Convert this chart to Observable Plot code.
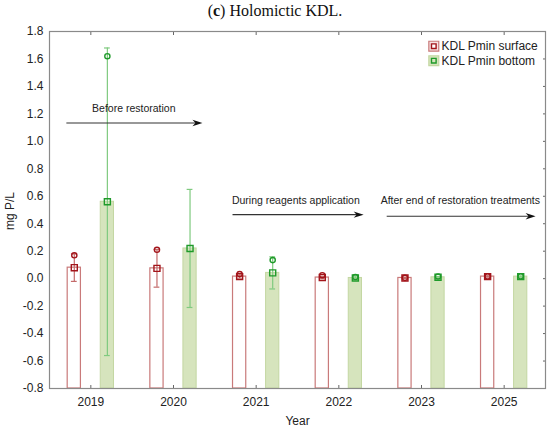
<!DOCTYPE html>
<html><head><meta charset="utf-8">
<script src="https://cdn.jsdelivr.net/npm/d3@7"></script>
<script src="https://cdn.jsdelivr.net/npm/@observablehq/plot@0.6"></script>
<style>
body{margin:0;background:#fff;}
#title{height:20px;line-height:22px;text-align:center;font-family:"Liberation Serif","DejaVu Serif",serif;font-size:16px;color:#111;}
</style></head><body>
<div id="title">(<b>c</b>) Holomictic KDL.</div>
<div id="chart"></div>
<script>
// ---- data ----
const years = ["2019", "2020", "2021", "2022", "2023", "2025"];
const surfaceMean = [0.080, 0.075, 0.015, 0.008, 0.005, 0.015];
const surfaceSD   = [0.100, 0.137, 0.012, 0.008, 0.004, 0.004];
const surfaceMax  = [0.170, 0.210, 0.033, 0.025, 0.006, 0.016];
const bottomMean  = [0.560, 0.220, 0.042, 0.005, 0.010, 0.015];
const bottomSD    = [1.120, 0.430, 0.117, 0.008, 0.006, 0.004];
const bottomMax   = [1.620, null,  0.135, 0.012, 0.016, 0.017];
const yTicks = [-0.8, -0.6, -0.4, -0.2, 0.0, 0.2, 0.4, 0.6, 0.8, 1.0, 1.2, 1.4, 1.6, 1.8];
const seriesNames = ["KDL Pmin surface", "KDL Pmin bottom"];
// phase annotations (x in year-index units, y in mg P/L)
const phaseText   = ["Before restoration", "During reagents application", "After end of restoration treatments"];
const phaseFrom   = [-0.29, 1.72, 3.585];
const phaseTo     = [1.35, 3.30, 5.38];
const phaseArrowY = [1.134, 0.466, 0.454];
const phaseTextX  = [0.52, 2.48, 4.47];
const phaseTextY  = [1.24, 0.57, 0.57];

// ---- build tables ----
const yMin = -0.8, yMax = 1.8;
const off = 0.2, half = 0.08, cap = 0.035;
const mk = (mean, sd, max, o) => years.map((y, i) => ({
  i, x: i + o, mean: mean[i], lo: mean[i] - sd[i], hi: mean[i] + sd[i], max: max[i]
}));
const surface = mk(surfaceMean, surfaceSD, surfaceMax, -off);
const bottom = mk(bottomMean, bottomSD, bottomMax, off);
const phases = phaseText.map((t, k) => ({t, x1: phaseFrom[k], x2: phaseTo[k], y: phaseArrowY[k], tx: phaseTextX[k], ty: phaseTextY[k]}));

const C = {
  sBar: "#c97a7a", sErr: "#c46a6a", sMark: "#a3151b",
  bFill: "#d6e4bd", bBar: "#c3d7a2", bErr: "#7fca7f", bMark: "#1f9a2a"
};
const dart = {draw(ctx) { ctx.moveTo(0, 0); ctx.lineTo(-10, -3.2); ctx.lineTo(-7, 0); ctx.lineTo(-10, 3.2); ctx.closePath(); }};
const font = "Liberation Sans, Arial, sans-serif";

const errMarks = (data, color) => [
  Plot.ruleX(data, {x: "x", y1: "lo", y2: "hi", stroke: color, strokeWidth: 1.2}),
  Plot.ruleY(data, {y: "lo", x1: d => d.x - cap, x2: d => d.x + cap, stroke: color, strokeWidth: 1.2}),
  Plot.ruleY(data, {y: "hi", x1: d => d.x - cap, x2: d => d.x + cap, stroke: color, strokeWidth: 1.2})
];

const legend = seriesNames.flatMap((name, k) => {
  const dy = 14.7 + k * 14.5;
  return [
    Plot.dot([0], {frameAnchor: "top-right", dx: -111.7, dy, symbol: "square", r: 5.6,
      fill: k === 0 ? "#f7e3e3" : C.bFill, stroke: k === 0 ? C.sBar : C.bBar, strokeWidth: 1.2}),
    Plot.dot([0], {frameAnchor: "top-right", dx: -111.7, dy, symbol: "square", r: 2.6,
      fill: k === 0 ? "white" : "none", stroke: k === 0 ? C.sMark : C.bMark, strokeWidth: 1.4}),
    Plot.text([name], {frameAnchor: "top-right", dx: -104, dy, text: d => d, textAnchor: "start",
      lineAnchor: "middle", fontSize: 12, fill: "#222"})
  ];
});

const chart = Plot.plot({
  width: 550, height: 409,
  marginTop: 11, marginBottom: 41, marginLeft: 49, marginRight: 5,
  style: {fontFamily: font, fontSize: "12px", color: "#222", background: "#fff"},
  x: {domain: [-0.5, years.length - 0.5]},
  y: {domain: [yMin, yMax]},
  marks: [
    // bars
    Plot.rectY(surface, {x1: d => d.x - half, x2: d => d.x + half, y1: yMin, y2: "mean", fill: "white", stroke: C.sBar, strokeWidth: 1.2}),
    Plot.rectY(bottom, {x1: d => d.x - half, x2: d => d.x + half, y1: yMin, y2: "mean", fill: C.bFill, stroke: C.bBar, strokeWidth: 1}),
    // error bars
    ...errMarks(surface, C.sErr),
    ...errMarks(bottom, C.bErr),
    // max circles and mean squares
    Plot.dot(surface, {x: "x", y: "max", r: 2.6, stroke: C.sMark, fill: "none", strokeWidth: 1.4}),
    Plot.dot(bottom.filter(d => d.max != null), {x: "x", y: "max", r: 2.6, stroke: C.bMark, fill: "none", strokeWidth: 1.4}),
    Plot.dot(surface, {x: "x", y: "mean", symbol: "square", r: 3.4, stroke: C.sMark, fill: "none", strokeWidth: 1.4}),
    Plot.dot(bottom, {x: "x", y: "mean", symbol: "square", r: 3.4, stroke: C.bMark, fill: "none", strokeWidth: 1.4}),
    // phase arrows
    Plot.ruleY(phases, {y: "y", x1: "x1", x2: d => d.x2 - 0.06, stroke: "#333", strokeWidth: 1.1}),
    Plot.dot(phases, {x: "x2", y: "y", symbol: dart, fill: "#111", stroke: "none"}),
    Plot.text(phases, {x: "tx", y: "ty", text: "t", fontSize: 10.5, fill: "#222", textAnchor: "middle"}),
    // axes
    Plot.axisX({ticks: years.map((d, i) => i), tickFormat: i => years[i], tickSize: 0, tickPadding: 9, label: null, fontSize: 12}),
    Plot.axisX({ticks: years.map((d, i) => i), anchor: "bottom", tickSize: -3, tickFormat: () => "", label: null, stroke: "#666"}),
    Plot.axisX({ticks: years.map((d, i) => i), anchor: "top", tickSize: -3, tickFormat: () => "", label: null, stroke: "#666"}),
    Plot.axisY({ticks: yTicks, tickFormat: d => d.toFixed(1), tickSize: 0, tickPadding: 6, label: null, fontSize: 12}),
    Plot.axisY({ticks: yTicks, anchor: "right", tickSize: -3, tickFormat: () => "", label: null, stroke: "#666"}),
    Plot.frame({stroke: "#8a8a8a", strokeWidth: 1.2}),
    // axis titles
    Plot.text(["Year"], {frameAnchor: "bottom", dy: 33, text: d => d, fontSize: 12, fill: "#222", lineAnchor: "middle"}),
    Plot.text(["mg P/L"], {frameAnchor: "left", dx: -39, dy: 20, rotate: -90, text: d => d, fontSize: 12, fill: "#222", lineAnchor: "middle"}),
    ...legend
  ]
});
document.getElementById("chart").appendChild(chart);
</script>
</body></html>
